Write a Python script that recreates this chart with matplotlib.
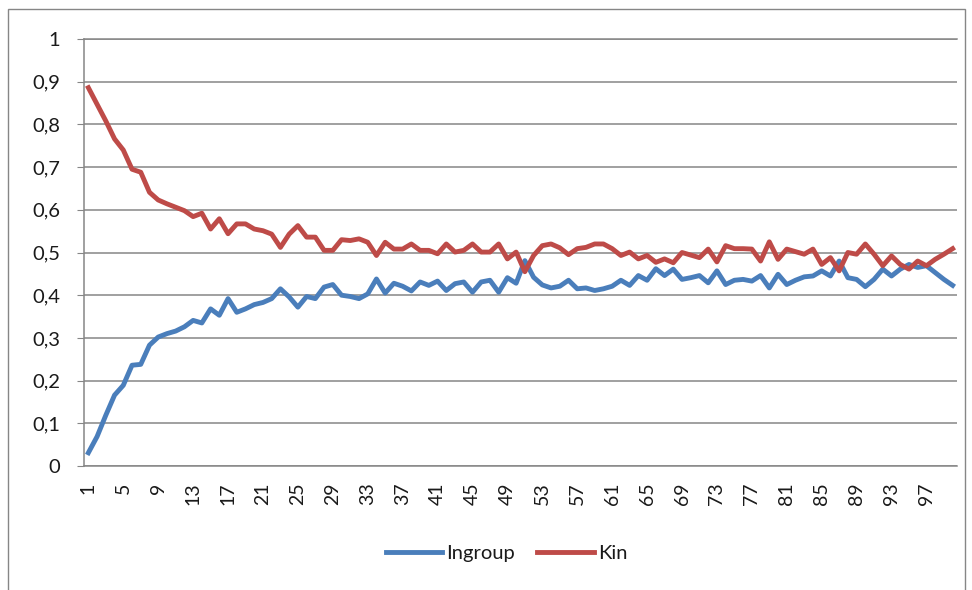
import matplotlib.pyplot as plt
from matplotlib.patches import Rectangle
import numpy as np

plt.rcParams['font.family'] = ['Lato', 'DejaVu Sans']

steps = list(range(1, 101))
ingroup = [0.031, 0.069, 0.119, 0.166, 0.189, 0.236, 0.238, 0.283, 0.302, 0.310,
           0.316, 0.326, 0.341, 0.335, 0.368, 0.353, 0.392, 0.360, 0.368, 0.378,
           0.383, 0.392, 0.415, 0.396, 0.372, 0.397, 0.392, 0.419, 0.425, 0.400,
           0.397, 0.392, 0.403, 0.438, 0.405, 0.428, 0.421, 0.410, 0.431, 0.423,
           0.433, 0.411, 0.427, 0.431, 0.407, 0.431, 0.435, 0.407, 0.441, 0.428,
           0.481, 0.442, 0.424, 0.417, 0.421, 0.435, 0.415, 0.417, 0.411, 0.415,
           0.421, 0.435, 0.423, 0.446, 0.435, 0.462, 0.446, 0.461, 0.437, 0.441,
           0.446, 0.429, 0.457, 0.425, 0.435, 0.437, 0.433, 0.446, 0.417, 0.449,
           0.425, 0.435, 0.443, 0.445, 0.457, 0.445, 0.480, 0.441, 0.437, 0.420,
           0.437, 0.461, 0.445, 0.461, 0.472, 0.465, 0.469, 0.453, 0.437, 0.423]
kin = [0.886, 0.847, 0.808, 0.766, 0.740, 0.695, 0.688, 0.641, 0.623, 0.614,
       0.606, 0.598, 0.584, 0.592, 0.555, 0.579, 0.544, 0.567, 0.567, 0.555,
       0.551, 0.543, 0.512, 0.543, 0.563, 0.536, 0.536, 0.505, 0.505, 0.530,
       0.528, 0.532, 0.524, 0.493, 0.524, 0.508, 0.508, 0.520, 0.505, 0.505,
       0.497, 0.520, 0.501, 0.505, 0.520, 0.501, 0.501, 0.520, 0.485, 0.501,
       0.455, 0.493, 0.516, 0.520, 0.511, 0.495, 0.509, 0.512, 0.520, 0.520,
       0.509, 0.493, 0.501, 0.485, 0.493, 0.477, 0.485, 0.476, 0.500, 0.494,
       0.488, 0.508, 0.478, 0.516, 0.509, 0.509, 0.508, 0.480, 0.525, 0.484,
       0.508, 0.502, 0.496, 0.508, 0.472, 0.488, 0.457, 0.500, 0.496, 0.520,
       0.496, 0.469, 0.492, 0.472, 0.461, 0.480, 0.469, 0.484, 0.496, 0.509]
y_ticks = [0, 0.1, 0.2, 0.3, 0.4, 0.5, 0.6, 0.7, 0.8, 0.9, 1]
y_labels = ['0', '0,1', '0,2', '0,3', '0,4', '0,5', '0,6', '0,7', '0,8', '0,9', '1']
x_ticks = list(range(1, 101, 4))

grid_col = '#868686'
text_col = '#1a1a1a'

fig = plt.figure(figsize=(9.72, 5.90), dpi=100)
ax = fig.add_axes([84 / 972, 1 - 466 / 590, 873 / 972, 427 / 590])

ax.plot(steps, ingroup, color='#4A7EBB', lw=3.5, label='Ingroup', solid_joinstyle='round')
ax.plot(steps, kin, color='#BE4B48', lw=3.5, label='Kin', solid_joinstyle='round')

ax.set_xlim(0.5, 100.5)
ax.set_ylim(0, 1)
ax.set_yticks(y_ticks)
ax.set_yticklabels(y_labels)
ax.set_xticks(x_ticks)
ax.set_xticklabels([str(t) for t in x_ticks], rotation=90)
ax.yaxis.grid(True, color=grid_col, lw=1.1)
ax.set_axisbelow(True)
ax.spines['right'].set_visible(False)
for s in ['left', 'bottom', 'top']:
    ax.spines[s].set_color(grid_col)
    ax.spines[s].set_linewidth(1.1)
ax.tick_params(axis='y', length=5, color=grid_col, labelsize=14.5, pad=12, labelcolor=text_col)
ax.tick_params(axis='x', length=0, labelsize=14, pad=12, labelcolor=text_col)

ax.legend(loc='center', bbox_to_anchor=(0.5 - 0.016, -0.205), ncol=2, frameon=False,
          fontsize=14.5, handlelength=2.8, handletextpad=0.2, columnspacing=1.1,
          labelcolor=text_col)

fig.patches.append(Rectangle((8 / 972, -0.02), 957 / 972, 1 - 9 / 590 + 0.02,
                             transform=fig.transFigure, fill=False,
                             edgecolor=grid_col, lw=1.0))

fig.savefig('out.png', dpi=100)
